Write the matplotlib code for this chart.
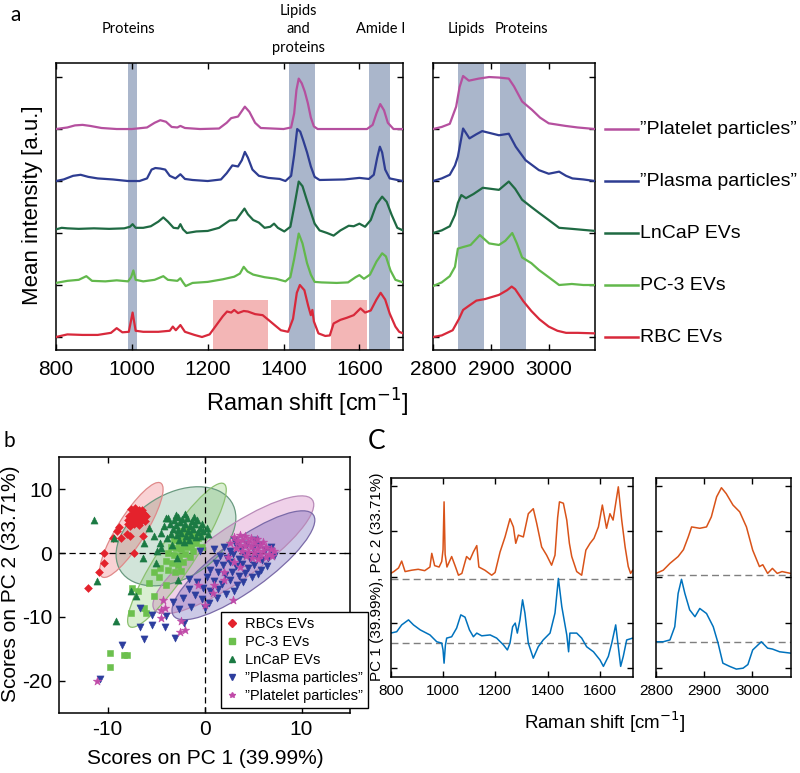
import numpy as np
import matplotlib
matplotlib.use('Agg')
import matplotlib.pyplot as plt
from matplotlib.transforms import Affine2D, blended_transform_factory
from matplotlib.patches import Circle, Rectangle
from matplotlib.lines import Line2D

plt.rcParams['font.family'] = ['Liberation Sans', 'DejaVu Sans']
plt.rcParams['axes.linewidth'] = 1.1
plt.rcParams['axes.unicode_minus'] = False

# ---------------- Panel a data ----------------
series_names = ['RBC EVs', 'PC-3 EVs', 'LnCaP EVs', '\u201dPlasma particles\u201d', '\u201dPlatelet particles\u201d']
series_colors = ['#d8293b', '#62b84c', '#1f6a43', '#2e3d92', '#b5509f']
series_offsets = [0, 1, 2, 3, 4]

rbc_fp = [(800,0.0),(830,0.05),(870,0.04),(910,0.04),(945,0.08),(960,0.17),(975,0.09),(992,0.10),(1002,0.47),(1010,0.12),
          (1030,0.10),(1070,0.10),(1100,0.12),(1108,0.2),(1116,0.13),(1128,0.23),(1140,0.10),(1165,0.04),(1185,0.0),(1205,0.05),
          (1222,0.22),(1240,0.40),(1251,0.49),(1262,0.47),(1270,0.52),(1280,0.46),(1295,0.5),(1306,0.49),(1325,0.44),(1345,0.42),
          (1360,0.33),(1378,0.22),(1393,0.13),(1412,0.1),(1425,0.35),(1435,0.85),(1443,1.0),(1455,0.9),(1465,0.6),(1472,0.42),
          (1476,0.52),(1480,0.3),(1492,0.07),(1510,0.02),(1522,0.03),(1532,0.26),(1550,0.33),(1567,0.37),(1585,0.42),(1603,0.55),
          (1615,0.47),(1630,0.51),(1645,0.72),(1656,0.85),(1668,0.72),(1680,0.45),(1695,0.2),(1705,0.1),(1715,0.07)]
pc3_fp = [(800,0.04),(830,0.08),(860,0.10),(880,0.17),(895,0.08),(930,0.07),(960,0.09),(990,0.07),(998,0.15),(1004,0.28),
          (1010,0.10),(1030,0.07),(1060,0.10),(1083,0.17),(1095,0.10),(1120,0.08),(1128,0.13),(1135,0.05),(1142,-0.02),(1160,0.04),
          (1200,0.06),(1240,0.11),(1270,0.16),(1285,0.22),(1295,0.35),(1305,0.26),(1320,0.20),(1350,0.15),(1380,0.12),(1405,0.07),
          (1418,0.15),(1428,0.5),(1440,0.99),(1450,0.8),(1462,0.42),(1472,0.2),(1482,0.06),(1500,0.05),(1540,0.04),(1570,0.05),
          (1590,0.15),(1600,0.19),(1612,0.12),(1628,0.2),(1645,0.45),(1660,0.61),(1670,0.55),(1682,0.28),(1695,0.10),(1715,0.05)]
lncap_fp = [(800,0.07),(815,0.10),(830,0.09),(860,0.08),(900,0.09),(940,0.08),(980,0.09),(995,0.12),(1002,0.17),(1010,0.10),
            (1030,0.10),(1050,0.13),(1070,0.22),(1083,0.30),(1095,0.22),(1110,0.10),(1122,0.09),(1128,0.17),(1135,0.07),(1145,0.0),
            (1170,0.03),(1200,0.04),(1230,0.10),(1258,0.24),(1275,0.25),(1288,0.38),(1297,0.47),(1306,0.36),(1320,0.25),(1335,0.20),
            (1350,0.10),(1365,0.12),(1375,0.18),(1385,0.10),(1402,0.03),(1418,0.12),(1428,0.5),(1440,0.99),(1450,0.9),(1462,0.62),
            (1472,0.4),(1482,0.18),(1495,0.05),(1515,0.0),(1532,-0.05),(1550,0.05),(1572,0.14),(1585,0.13),(1600,0.18),(1615,0.12),
            (1630,0.25),(1645,0.55),(1660,0.70),(1672,0.6),(1685,0.35),(1700,0.1),(1715,0.05)]
plasma_fp = [(800,0.0),(820,0.03),(845,0.10),(865,0.12),(885,0.08),(910,0.05),(950,0.03),(990,0.0),(1020,0.0),(1040,0.05),
             (1052,0.22),(1062,0.25),(1075,0.24),(1088,0.22),(1100,0.1),(1115,0.05),(1128,0.13),(1140,0.04),(1160,0.02),(1200,0.0),
             (1235,0.03),(1250,0.15),(1265,0.30),(1280,0.28),(1290,0.40),(1298,0.56),(1306,0.45),(1318,0.22),(1335,0.10),(1360,0.06),
             (1390,0.04),(1405,0.0),(1420,0.1),(1428,0.5),(1436,1.0),(1444,0.95),(1452,0.78),(1462,0.55),(1472,0.28),(1482,0.08),
             (1495,0.02),(1560,0.03),(1600,0.06),(1625,0.04),(1638,0.12),(1647,0.45),(1654,0.66),(1660,0.55),(1668,0.22),(1680,0.05),
             (1700,0.02),(1715,0.0)]
platelet_fp = [(800,0.0),(830,0.03),(850,0.07),(870,0.08),(890,0.06),(920,0.02),(960,0.0),(1000,0.0),(1040,0.03),(1060,0.12),
               (1075,0.17),(1090,0.14),(1105,0.04),(1120,0.03),(1128,0.06),(1140,0.02),(1180,0.0),(1230,0.01),(1250,0.12),(1262,0.21),
               (1280,0.24),(1298,0.43),(1310,0.33),(1325,0.12),(1340,0.02),(1400,0.0),(1420,0.03),(1428,0.3),(1434,0.75),(1440,0.97),
               (1448,0.88),(1456,0.72),(1464,0.5),(1472,0.22),(1480,0.05),(1490,0.0),(1550,0.0),(1620,0.0),(1635,0.08),(1645,0.3),
               (1655,0.48),(1665,0.36),(1675,0.12),(1690,0.0),(1715,0.0)]

rbc_hw = [(2800,0.0),(2815,0.03),(2834,0.13),(2845,0.35),(2852,0.52),(2862,0.60),(2875,0.70),(2890,0.73),(2914,0.81),(2928,0.9),
          (2936,0.97),(2942,0.92),(2956,0.69),(2970,0.5),(2984,0.34),(3000,0.2),(3015,0.12),(3030,0.08),(3050,0.08),(3080,0.07)]
pc3_hw = [(2800,-0.02),(2815,0.05),(2829,0.17),(2838,0.35),(2843,0.70),(2852,0.73),(2865,0.77),(2881,0.96),(2897,0.80),(2914,0.77),
          (2925,0.85),(2937,1.0),(2945,0.8),(2954,0.53),(2970,0.42),(2983,0.29),(3000,0.15),(3018,0.0),(3040,0.02),(3060,0.0),(3080,0.0)]
lncap_hw = [(2800,0.0),(2815,0.05),(2829,0.13),(2838,0.35),(2843,0.58),(2849,0.73),(2857,0.67),(2870,0.75),(2886,0.87),(2914,0.83),
            (2931,0.99),(2942,0.85),(2954,0.64),(2970,0.5),(2983,0.39),(3000,0.25),(3018,0.10),(3040,0.08),(3060,0.06),(3080,0.04)]
plasma_hw = [(2800,0.0),(2815,0.05),(2829,0.12),(2838,0.30),(2843,0.47),(2852,1.01),(2863,0.82),(2875,0.90),(2885,0.96),(2914,0.88),
             (2931,0.91),(2943,0.66),(2960,0.40),(2983,0.21),(3000,0.14),(3018,0.18),(3030,0.10),(3041,0.05),(3060,0.03),(3080,0.0)]
platelet_hw = [(2800,0.0),(2815,0.04),(2829,0.10),(2840,0.43),(2846,0.81),(2852,1.02),(2862,0.93),(2879,0.97),(2897,1.0),(2914,0.99),
               (2931,0.97),(2940,0.82),(2954,0.53),(2971,0.37),(2985,0.22),(3000,0.11),(3029,0.06),(3050,0.03),(3080,0.0)]

fingerprint = [rbc_fp, pc3_fp, lncap_fp, plasma_fp, platelet_fp]
highwave = [rbc_hw, pc3_hw, lncap_hw, plasma_hw, platelet_hw]

blue_bands_fp = [(991, 1013), (1415, 1484), (1625, 1680)]
blue_bands_hw = [(2844, 2888), (2916, 2960)]
red_boxes = [(1215, 1360), (1525, 1620)]
red_box_top = 0.71
band_color = '#aab6cb'
red_color = '#f3b6b6'

# ---------------- Panel b data ----------------
groups_b = ['RBCs EVs', 'PC-3 EVs', 'LnCaP EVs', '\u201dPlasma particles\u201d', '\u201dPlatelet particles\u201d']
colors_b = ['#e4222c', '#6cc04e', '#1b7a43', '#2d3e9e', '#c04aa8']
markers_b = ['D', 's', '^', 'v', '*']
msize_b = [16, 18, 26, 26, 40]

rbc_pts = [(-7.6,6.9),(-7.2,7.1),(-6.8,6.8),(-6.5,6.4),(-7.4,6.3),(-7.0,6.0),(-6.6,5.9),(-7.8,5.8),(-7.3,5.6),(-6.9,5.4),
           (-6.4,5.5),(-7.6,5.1),(-7.1,5.0),(-6.7,4.9),(-6.2,5.0),(-7.9,4.6),(-7.3,4.5),(-6.8,4.4),(-6.5,6.8),(-7.0,6.6),
           (-6.3,6.1),(-7.5,5.4),(-6.9,4.7),(-7.7,4.3),(-6.1,5.8),(-7.2,6.7),(-6.6,5.3),(-7.9,5.2),
           (-9.0,3.4),(-8.8,4.1),(-9.5,2.3),(-8.6,2.3),(-7.7,2.6),(-6.4,2.6),(-7.3,0.0),(-10.4,0.0),(-10.4,-1.6),
           (-10.9,-2.9),(-12.0,-5.5),(-8.0,3.0)]
pc3_pts = [(-2.5,3.5),(-2.0,3.2),(-1.5,3.6),(-1.0,3.0),(-2.8,2.7),(-2.2,2.4),(-1.7,2.7),(-1.2,2.2),(-0.7,2.4),(-3.2,2.0),
           (-2.6,1.7),(-2.0,1.5),(-1.4,1.3),(-0.9,1.6),(-3.5,1.0),(-3.0,0.8),(-2.4,0.6),(-1.8,0.9),(-1.2,0.4),(-3.8,0.0),
           (-3.2,-0.3),(-2.6,-0.5),(-2.0,-0.2),(-1.5,-0.6),(-4.0,-1.2),(-3.4,-1.5),(-2.8,-1.8),(-2.2,-1.4),(-4.6,-2.3),(-3.8,-2.6),
           (-3.1,-3.0),(-5.2,-2.9),(-4.7,-3.7),(-4.0,-5.0),(-5.7,-4.7),(-2.4,-2.8),(-1.6,1.9),(-0.5,3.2),(-1.8,4.0),(-0.3,1.0),
           (-7.5,-5.5),(-6.9,-5.9),(-6.3,-8.6),(-7.65,-9.4),(-5.2,-6.8),(-6.1,-9.4),(-9.73,-15.7),(-8.34,-15.9),(-8.0,-16.0),(-9.73,-17.9)]
lncap_pts = [(-3.8,5.5),(-3.2,5.2),(-2.8,5.6),(-2.3,5.3),(-1.8,5.5),(-1.3,5.0),(-0.8,5.2),(-0.3,4.6),(0.2,4.0),(-3.6,4.6),
             (-3.0,4.4),(-2.5,4.8),(-2.0,4.5),(-1.5,4.3),(-1.0,4.6),(-0.5,4.0),(-3.3,3.8),(-2.7,3.6),(-2.2,3.9),(-1.7,3.4),
             (-1.2,3.7),(-0.7,3.3),(-0.2,3.5),(-3.5,3.0),(-2.9,2.8),(-2.4,3.1),(-1.9,2.6),(-1.4,2.9),(-0.9,2.5),(-4.2,4.2),
             (-4.5,3.2),(-3.9,2.4),(-2.6,2.0),(-2.1,1.8),(-1.6,2.1),(-0.4,2.7),(0.3,3.0),(-3.0,5.9),(-2.0,6.1),(-1.1,5.7),
             (-4.6,1.5),(-3.4,1.2),(-4.9,0.4),(-2.9,-0.7),
             (-11.45,5.2),(-9.4,2.4),(-5.7,3.9),(-5.2,2.6),(-6.3,1.6),(-6.4,-0.7),(-4.5,0.8),(-5.0,-1.6),(-11.1,-4.3),
             (-7.6,-6.0),(-7.1,-6.8),(-9.2,-10.7),(-2.8,-4.2),(-4.0,5.5)]
plasma_pts = [(2.0,1.0),(2.6,0.4),(3.2,1.2),(3.8,0.6),(4.4,1.4),(5.0,0.8),(5.6,1.2),(6.2,0.5),(6.8,0.2),(7.2,-0.4),
              (1.6,-0.4),(2.3,-0.8),(2.9,-0.2),(3.5,-0.9),(4.1,-0.3),(4.7,-1.0),(5.3,-0.4),(5.9,-1.1),(6.5,-0.7),(1.2,-1.6),
              (1.9,-1.9),(2.6,-1.4),(3.2,-2.1),(3.9,-1.7),(4.5,-2.4),(5.1,-1.9),(5.8,-2.6),(6.4,-2.0),(0.6,-2.6),(1.4,-3.0),
              (2.1,-3.4),(2.8,-2.9),(3.5,-3.6),(4.2,-3.1),(4.9,-3.8),(5.5,-3.3),(0.2,-3.8),(1.0,-4.4),(1.8,-4.8),(2.6,-4.2),
              (3.3,-5.0),(4.0,-4.6),(-0.8,-4.6),(-0.2,-5.4),(0.6,-6.0),(1.4,-5.6),(2.2,-6.4),(3.0,-6.0),(-1.6,-5.6),(-1.0,-6.6),
              (-0.3,-7.2),(0.5,-7.8),(1.3,-7.0),(-2.2,-7.0),(-1.4,-8.4),(0.0,-8.6),(-3.3,-7.6),(-2.6,-8.8),(-0.5,0.3),(1.0,0.6),
              (6.8,1.0),(5.2,2.0),(3.0,2.0),
              (-6.7,-8.6),(-5.4,-9.7),(-4.0,-9.9),(-6.7,-11.5),(-6.3,-13.5),(-5.4,-11.2),(-4.1,-11.6),(-3.1,-13.3),(-2.1,-11.0),
              (-8.5,-14.4),(-10.8,-19.7),(-1.6,-4.0)]
platelet_pts = [(3.0,2.5),(3.6,2.8),(4.2,2.6),(4.8,2.4),(5.4,2.2),(6.0,1.8),(3.3,1.9),(3.9,2.0),(4.5,1.8),(5.1,1.6),
                (5.7,1.3),(6.3,1.0),(6.8,0.6),(3.6,1.2),(4.2,1.1),(4.8,0.9),(5.4,0.6),(6.0,0.3),(6.6,-0.2),(3.9,0.4),
                (4.5,0.2),(5.1,0.0),(5.7,-0.3),(6.3,-0.6),(7.0,-0.4),(4.3,-0.5),(4.9,-0.8),(5.5,-1.0),(3.2,0.8),(2.6,1.6),
                (7.2,0.4),(2.4,-0.6),(3.0,-1.4),(3.6,-2.2),(2.0,-3.0),(1.0,-5.0),
                (-11.1,-20.1),(-4.5,-10.2),(-2.5,-12.3),(-2.0,-12.0),(-4.1,-8.6),(-0.7,-5.0),(0.0,-8.1),(-4.3,-7.3),
                (-4.5,-8.9),(-2.4,-10.7),(0.9,-6.3),(2.9,-7.3),(2.0,-4.2)]
points_b = [rbc_pts, pc3_pts, lncap_pts, plasma_pts, platelet_pts]

# confidence ellipses: centre x, centre y, half-extent x, half-extent y, correlation
ellipse_params = [(-7.56, 3.62, 3.27, 7.44, 0.855),
                  (-2.86, -0.34, 5.09, 11.29, 0.907),
                  (-2.96, 2.63, 6.18, 7.76, 0.373),
                  (4.0, -1.91, 7.37, 8.53, 0.83),
                  (2.96, -0.27, 8.30, 9.23, 0.849)]
ellipse_face = ['#e4222c', '#6cc04e', '#1b7a43', '#4a3fa8', '#c04aa8']
ellipse_edge = ['#e08a8a', '#8cc070', '#6a9a80', '#7a6aa8', '#b88ab8']
ellipse_alpha = [0.2, 0.25, 0.2, 0.28, 0.25]
ellipse_draw_order = [2, 1, 0, 4, 3]

# ---------------- Panel C data ----------------
pc2_fp = [(800,2.08),(812,2.12),(830,2.2),(842,2.35),(855,2.12),(880,2.15),(905,2.17),(930,2.14),(950,2.22),(957,2.52),
          (968,2.25),(985,2.22),(995,2.34),(1000,2.6),(1004,3.65),(1008,2.5),(1015,2.22),(1033,2.45),(1046,2.25),(1059,2.04),
          (1072,2.08),(1090,2.45),(1103,2.38),(1116,2.55),(1129,2.69),(1137,2.22),(1160,2.15),(1186,2.04),(1199,2.1),(1218,2.55),
          (1237,2.88),(1256,3.28),(1269,3.1),(1278,2.74),(1288,2.92),(1307,2.88),(1326,3.39),(1345,3.5),(1358,3.18),(1377,2.66),
          (1396,2.48),(1415,2.26),(1428,2.48),(1438,3.3),(1445,3.65),(1460,3.62),(1473,3.25),(1483,2.74),(1492,2.45),(1511,2.12),
          (1530,2.04),(1546,2.59),(1562,2.74),(1577,2.85),(1594,3.1),(1609,3.58),(1625,3.07),(1638,3.39),(1650,3.25),(1670,3.98),
          (1683,3.25),(1696,2.66),(1708,2.23),(1717,2.08),(1725,2.15)]
pc1_fp = [(800,0.77),(823,0.8),(842,0.95),(868,1.06),(887,0.95),(913,0.84),(950,0.73),(976,0.58),(995,0.55),(1000,0.4),
          (1004,0.11),(1009,0.5),(1014,0.66),(1033,0.69),(1052,0.88),(1068,1.17),(1084,1.12),(1101,0.84),(1116,0.69),(1129,0.77),
          (1148,0.71),(1180,0.73),(1205,0.66),(1231,0.51),(1246,0.40),(1256,0.55),(1266,0.91),(1276,0.99),(1284,0.77),(1294,1.06),
          (1304,1.5),(1313,1.21),(1326,0.55),(1345,0.22),(1364,0.47),(1383,0.62),(1409,0.77),(1428,1.21),(1441,1.97),(1454,1.35),
          (1473,0.73),(1480,0.36),(1485,0.77),(1511,0.77),(1530,0.66),(1549,0.47),(1575,0.36),(1600,0.18),(1613,0.04),(1632,0.26),
          (1645,0.55),(1660,0.95),(1670,0.47),(1679,0.04),(1689,0.26),(1702,0.62),(1725,0.66)]
pc2_hw = [(2800,2.08),(2815,2.15),(2829,2.30),(2846,2.45),(2857,2.6),(2867,2.88),(2874,3.10),(2891,3.07),(2905,3.10),(2915,3.32),
          (2926,3.76),(2936,3.96),(2946,3.83),(2960,3.58),(2974,3.43),(2988,3.10),(3001,2.59),(3015,2.23),(3022,2.27),(3032,2.08),
          (3042,2.19),(3052,2.08),(3062,2.12),(3080,2.08)]
pc1_hw = [(2800,0.58),(2815,0.58),(2829,0.62),(2839,0.91),(2846,1.64),(2853,1.95),(2860,1.64),(2870,1.28),(2881,1.13),(2891,1.31),
          (2905,1.20),(2919,0.91),(2929,0.55),(2939,0.11),(2953,0.04),(2967,-0.02),(2981,0.0),(2991,0.08),(3001,0.40),(3019,0.58),
          (3032,0.44),(3042,0.42),(3057,0.36),(3080,0.33)]
zero_levels_fp = [1.95, 0.555]
zero_levels_hw = [2.04, 0.577]
pc_colors = ['#d95319', '#0072bd']

# ---------------- Figure ----------------
W, H = 800, 773
fig = plt.figure(figsize=(8, 7.73), dpi=100)

def fax(x0, y0, x1, y1):
    return fig.add_axes([x0 / W, 1 - y1 / H, (x1 - x0) / W, (y1 - y0) / H])

def style_box(ax, size, pad=6):
    ax.tick_params(direction='in', top=True, right=True, length=4, width=1, labelsize=size, pad=pad)

# ---- panel a ----
axL = fax(56, 63, 403, 350)
axR = fax(433, 63, 595, 350)
for ax, data, bands, xlim, xt in [(axL, fingerprint, blue_bands_fp, (800, 1715), [800, 1000, 1200, 1400, 1600]),
                                  (axR, highwave, blue_bands_hw, (2800, 3080), [2800, 2900, 3000])]:
    for b0, b1 in bands:
        ax.axvspan(b0, b1, color=band_color, lw=0, zorder=0)
    for pts, col, off in zip(data, series_colors, series_offsets):
        xs = [p[0] for p in pts]
        ys = [p[1] + off for p in pts]
        ax.plot(xs, ys, color=col, lw=1.6, zorder=3)
    ax.set_xlim(*xlim)
    ax.set_ylim(-0.25, 5.27)
    ax.set_xticks(xt)
    ax.set_yticks([0, 1, 2, 3, 4, 5])
    ax.set_yticklabels([])
    style_box(ax, 15, pad=7)
for r0, r1 in red_boxes:
    axL.add_patch(Rectangle((r0, -0.25), r1 - r0, red_box_top + 0.25, color=red_color, lw=0, zorder=1))

# legend of panel a
tr = blended_transform_factory(axR.transAxes, axR.transData)
for name, col, off in zip(series_names, series_colors, series_offsets):
    axR.plot([1.062, 1.265], [off, off], color=col, lw=1.8, transform=tr, clip_on=False)
    axR.text(1.28, off, name, transform=tr, fontsize=14, va='center', ha='left')

# top annotations
trL = blended_transform_factory(axL.transData, axL.transAxes)
trR = blended_transform_factory(axR.transData, axR.transAxes)
ann = dict(fontsize=10.5, family=['Lato', 'DejaVu Sans'], ha='center', va='center')
axL.text(990, 1.118, 'Proteins', transform=trL, **ann)
axL.text(1440, 1.118, 'Lipids\nand\nproteins', transform=trL, linespacing=1.4, **ann)
axL.text(1657, 1.118, 'Amide I', transform=trL, **ann)
axR.text(2858, 1.118, 'Lipids', transform=trR, **ann)
axR.text(2953, 1.118, 'Proteins', transform=trR, **ann)

fig.text(307 / W, 1 - 403 / H, 'Raman shift [cm$^{-1}$]', fontsize=17, ha='center', va='center')
fig.text(33 / W, 1 - 205 / H, 'Mean intensity [a.u.]', fontsize=16, ha='center', va='center', rotation=90)

# ---- panel b ----
axb = fax(59.3, 457.3, 350, 712.7)
for i in ellipse_draw_order:
    cx, cy, sx, sy, r = ellipse_params[i]
    L = np.array([[sx, 0, cx], [r * sy, sy * np.sqrt(1 - r * r), cy], [0, 0, 1]])
    t = Affine2D(L) + axb.transData
    axb.add_patch(Circle((0, 0), 1.0, transform=t, facecolor=ellipse_face[i], alpha=ellipse_alpha[i],
                         edgecolor='none', zorder=1))
    axb.add_patch(Circle((0, 0), 1.0, transform=t, facecolor='none', edgecolor=ellipse_edge[i], lw=0.9, zorder=1.2))
axb.axhline(0, color='k', ls=(0, (5, 3)), lw=0.9, zorder=1.5)
axb.axvline(0, color='k', ls=(0, (5, 3)), lw=0.9, zorder=1.5)
handles = []
for pts, col, mk, ms, name in zip(points_b, colors_b, markers_b, msize_b, groups_b):
    xs = [p[0] for p in pts]
    ys = [p[1] for p in pts]
    axb.scatter(xs, ys, s=ms, marker=mk, color=col, edgecolors=col, linewidths=0.4, zorder=3)
    handles.append(Line2D([], [], ls='none', marker=mk, color=col, markersize=4))
axb.set_xlim(-15, 15)
axb.set_ylim(-25, 15)
axb.set_xticks([-10, 0, 10])
axb.set_yticks([-20, -10, 0, 10])
style_box(axb, 15, pad=5)
leg = axb.legend(handles, groups_b, loc='lower left', bbox_to_anchor=(0.555, 0.018), fontsize=10.5,
                 frameon=True, fancybox=False, framealpha=1, edgecolor='k', borderpad=0.35,
                 labelspacing=0.28, handlelength=0.9, handletextpad=0.45, borderaxespad=0)
leg.get_frame().set_linewidth(1.0)
leg.set_zorder(5)
fig.text(205 / W, 1 - 758 / H, 'Scores on PC 1 (39.99%)', fontsize=15, ha='center', va='center')
fig.text(11 / W, 1 - 584 / H, 'Scores on PC 2 (33.71%)', fontsize=15, ha='center', va='center', rotation=90)

# ---- panel C ----
axc1 = fax(390.7, 477.7, 632.7, 677.3)
axc2 = fax(656, 477.7, 790.7, 677.3)
for ax, p2, p1, zl, xlim, xt in [(axc1, pc2_fp, pc1_fp, zero_levels_fp, (800, 1725), [800, 1000, 1200, 1400, 1600]),
                                 (axc2, pc2_hw, pc1_hw, zero_levels_hw, (2800, 3080), [2800, 2900, 3000])]:
    for lev in zl:
        ax.axhline(lev, color='#7f7f7f', ls=(0, (5, 3)), lw=1.0, zorder=1)
    for pts, col in zip([p2, p1], pc_colors):
        ax.plot([p[0] for p in pts], [p[1] for p in pts], color=col, lw=1.1, zorder=2)
    ax.set_xlim(*xlim)
    ax.set_ylim(-0.2, 4.18)
    ax.set_xticks(xt)
    ax.set_yticks([0, 1, 2, 3, 4])
    ax.set_yticklabels([])
    style_box(ax, 11, pad=5)
fig.text(605 / W, 1 - 722 / H, 'Raman shift [cm$^{-1}$]', fontsize=13.5, ha='center', va='center')
fig.text(377 / W, 1 - 577 / H, 'PC 1 (39.99%), PC 2 (33.71%)', fontsize=11, ha='center', va='center', rotation=90)

# panel letters
lab = dict(family=['Lato', 'DejaVu Sans'], ha='center', va='center')
fig.text(16 / W, 1 - 15 / H, 'a', fontsize=15, **lab)
fig.text(9 / W, 1 - 441 / H, 'b', fontsize=15, **lab)
fig.text(377 / W, 1 - 442 / H, 'C', fontsize=19, **lab)

fig.savefig('out.png', dpi=100)
